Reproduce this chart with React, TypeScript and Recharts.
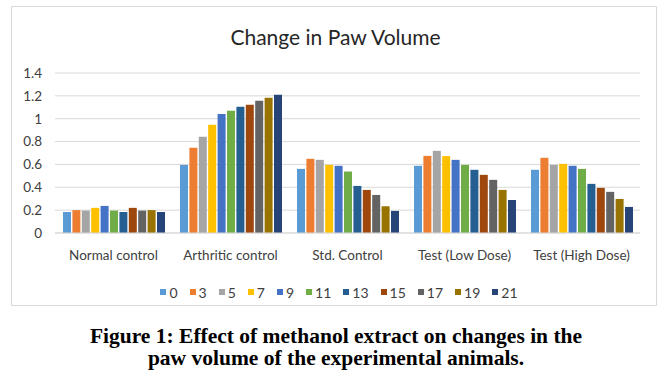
import React from 'react';
import { BarChart, Bar, XAxis, YAxis, CartesianGrid } from 'recharts';

const categories = ['Normal control', 'Arthritic control', 'Std. Control', 'Test (Low Dose)', 'Test (High Dose)'];
const days = ['0', '3', '5', '7', '9', '11', '13', '15', '17', '19', '21'];
const colors = ['#5B9BD5', '#ED7D31', '#A5A5A5', '#FFC000', '#4472C4', '#70AD47', '#255E91', '#9E480E', '#636363', '#997300', '#264478'];
const yTicks = [0, 0.2, 0.4, 0.6, 0.8, 1, 1.2, 1.4];

const day0 = [0.184, 0.596, 0.561, 0.588, 0.553];
const day3 = [0.2, 0.746, 0.649, 0.675, 0.658];
const day5 = [0.196, 0.842, 0.64, 0.719, 0.596];
const day7 = [0.22, 0.947, 0.596, 0.673, 0.605];
const day9 = [0.237, 1.041, 0.588, 0.64, 0.588];
const day11 = [0.196, 1.07, 0.538, 0.596, 0.561];
const day13 = [0.184, 1.105, 0.412, 0.553, 0.43];
const day15 = [0.22, 1.123, 0.377, 0.509, 0.395];
const day17 = [0.196, 1.158, 0.333, 0.465, 0.36];
const day19 = [0.2, 1.184, 0.234, 0.377, 0.298];
const day21 = [0.184, 1.21, 0.193, 0.289, 0.228];

const series = [day0, day3, day5, day7, day9, day11, day13, day15, day17, day19, day21];

const data = categories.map((name, i) => {
  const row: Record<string, string | number> = { name };
  days.forEach((d, j) => {
    row[d] = series[j][i];
  });
  return row;
});

const FONT = 'Lato, "Open Sans", sans-serif';

export default function App() {
  return (
    <div style={{ position: 'absolute', left: 0, top: 0, width: 667, height: 377, background: '#fff', overflow: 'hidden' }}>
      <div
        style={{
          position: 'absolute',
          left: 11,
          top: 6,
          width: 646,
          height: 300,
          border: '1px solid #D9D9D9',
          boxSizing: 'border-box',
        }}
      />
      <div
        style={{
          position: 'absolute',
          left: 0,
          top: 23,
          width: 667,
          textAlign: 'center',
          fontFamily: FONT,
          fontSize: 21,
          lineHeight: '28px',
          color: '#262626',
          paddingLeft: 4,
          boxSizing: 'border-box',
        }}
      >
        Change in Paw Volume
      </div>
      <div style={{ position: 'absolute', left: 0, top: 0 }}>
        <BarChart
          width={667}
          height={377}
          data={data}
          margin={{ top: 73, right: 27, bottom: 114, left: 10 }}
          barGap={1.4}
          barSize={8}
        >
          <CartesianGrid vertical={false} stroke="#D9D9D9" strokeWidth={1} />
          <XAxis
            dataKey="name"
            height={30}
            tickLine={false}
            axisLine={{ stroke: '#D9D9D9' }}
            tick={{ fill: '#404040', fontSize: 13.5, fontFamily: FONT }}
            tickMargin={11}
            interval={0}
          />
          <YAxis
            width={45}
            domain={[0, 1.4]}
            ticks={yTicks}
            interval={0}
            axisLine={false}
            tickLine={false}
            tickMargin={7}
            tick={{ fill: '#404040', fontSize: 13.5, fontFamily: FONT }}
          />
          {days.map((d, j) => (
            <Bar key={d} dataKey={d} name={d} fill={colors[j]} isAnimationActive={false} />
          ))}
        </BarChart>
      </div>
      <div
        style={{
          position: 'absolute',
          left: 0,
          top: 283,
          width: 678,
          height: 18,
          display: 'flex',
          justifyContent: 'center',
          alignItems: 'center',
          fontFamily: FONT,
          fontSize: 14,
          color: '#404040',
        }}
      >
        {days.map((d, j) => (
          <div key={d} style={{ display: 'flex', alignItems: 'center', marginRight: j === days.length - 1 ? 0 : 12 }}>
            <span style={{ display: 'inline-block', width: 6, height: 6, background: colors[j], marginRight: 3 }} />
            <span>{d}</span>
          </div>
        ))}
      </div>
      <div
        style={{
          position: 'absolute',
          left: 0,
          top: 325,
          width: 672,
          textAlign: 'center',
          fontFamily: '"Liberation Serif", "Times New Roman", serif',
          fontWeight: 'bold',
          fontSize: 21.5,
          lineHeight: '22px',
          color: '#000',
        }}
      >
        Figure 1: Effect of methanol extract on changes in the
        <br />
        paw volume of the experimental animals.
      </div>
    </div>
  );
}
